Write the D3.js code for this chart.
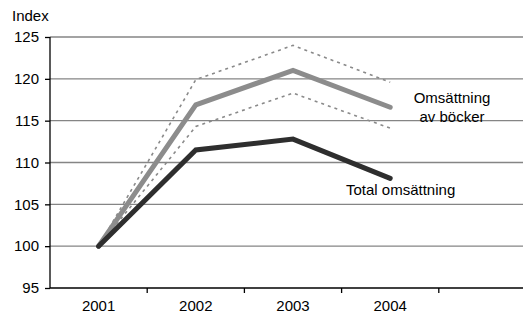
<!DOCTYPE html>
<html><head><meta charset="utf-8">
<script src="https://cdn.jsdelivr.net/npm/d3@7/dist/d3.min.js"></script>
<style>body{margin:0;background:#fff}svg{display:block}text{font-family:"Liberation Sans",Arial,sans-serif}</style>
</head><body><div id="chart"></div>
<script>
const years = ["2001", "2002", "2003", "2004"];
const bandCats = ["2001", "2002", "2003", "2004", ""];
const bookSales = [100, 116.9, 121.0, 116.6];
const bookUpper = [100, 119.9, 124.0, 119.6];
const bookLower = [100, 114.3, 118.3, 114.1];
const totalSales = [100, 111.5, 112.8, 108.1];
const yTicks = [95, 100, 105, 110, 115, 120, 125];

const W = 523, H = 314;
const svg = d3.select("#chart").append("svg").attr("width", W).attr("height", H);
const x = d3.scaleBand().domain(bandCats).range([50, 536]).paddingInner(0).paddingOuter(0);
const y = d3.scaleLinear().domain([95, 125]).range([288, 37]);
const cx = d => x(d) + x.bandwidth() / 2;

// gridlines
svg.append("g").selectAll("line").data(yTicks.filter(t => t > 95)).join("line")
  .attr("x1", 50).attr("x2", W).attr("y1", d => y(d)).attr("y2", d => y(d))
  .attr("stroke", "#858585").attr("stroke-width", 1.3);

// y axis
const ya = svg.append("g").attr("transform", "translate(50,0)")
  .call(d3.axisLeft(y).tickValues(yTicks).tickSize(5).tickPadding(6).tickFormat(d3.format("d")));
ya.select(".domain").attr("stroke", "#000").attr("stroke-width", 1.3).attr("d", `M0,${y(125)}V${y(95)}`);
ya.selectAll(".tick line").attr("stroke", "#000").attr("stroke-width", 1.3);
ya.selectAll("text").attr("font-size", 15).attr("font-family", "Liberation Sans, Arial, sans-serif").attr("fill", "#000");

// x axis
const xa = svg.append("g").attr("transform", `translate(0,${y(95)})`)
  .call(d3.axisBottom(x).tickSize(0).tickPadding(12));
xa.select(".domain").attr("stroke", "#000").attr("stroke-width", 1.3).attr("d", `M50,0H${W}`);
xa.selectAll("text").attr("font-size", 15).attr("font-family", "Liberation Sans, Arial, sans-serif").attr("fill", "#000");
svg.append("g").selectAll("line").data(bandCats.slice(1)).join("line")
  .attr("x1", d => x(d)).attr("x2", d => x(d))
  .attr("y1", y(95)).attr("y2", y(95) + 5).attr("stroke", "#000").attr("stroke-width", 1.3);

svg.append("text").attr("x", 12).attr("y", 21).attr("font-size", 15).text("Index");

const line = d3.line().x((d, i) => cx(years[i])).y(d => y(d));

svg.append("path").datum(bookUpper).attr("d", line).attr("fill", "none")
  .attr("stroke", "#8a8a8a").attr("stroke-width", 1.6).attr("stroke-dasharray", "3,4");
svg.append("path").datum(bookLower).attr("d", line).attr("fill", "none")
  .attr("stroke", "#8a8a8a").attr("stroke-width", 1.6).attr("stroke-dasharray", "3,4");
svg.append("path").datum(bookSales).attr("d", line).attr("fill", "none")
  .attr("stroke", "#8c8c8c").attr("stroke-width", 5).attr("stroke-linecap", "round").attr("stroke-linejoin", "miter");
svg.append("path").datum(totalSales).attr("d", line).attr("fill", "none")
  .attr("stroke", "#2e2e2e").attr("stroke-width", 5).attr("stroke-linecap", "round").attr("stroke-linejoin", "miter");

svg.append("text").attr("x", 452).attr("y", 103).attr("text-anchor", "middle").attr("font-size", 15).text("Omsättning");
svg.append("text").attr("x", 452).attr("y", 122).attr("text-anchor", "middle").attr("font-size", 15).text("av böcker");
svg.append("text").attr("x", 346).attr("y", 195).attr("font-size", 15).text("Total omsättning");
</script></body></html>
